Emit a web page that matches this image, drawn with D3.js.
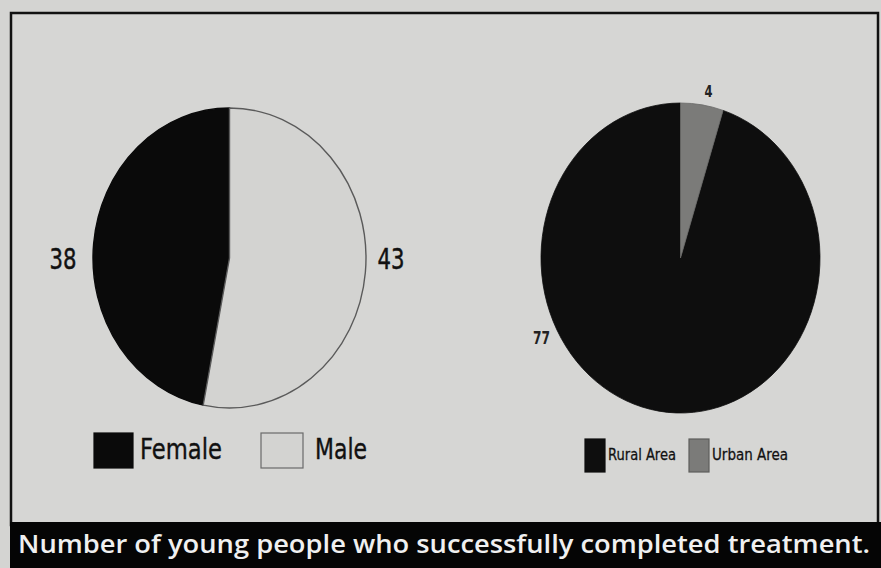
<!DOCTYPE html>
<html>
<head>
<meta charset="utf-8">
<script src="https://cdn.jsdelivr.net/npm/d3@7"></script>
<style>
  html, body { margin: 0; padding: 0; background: #d3d3d1; }
  svg { display: block; }
</style>
</head>
<body>
<div id="chart"></div>
<script>
// chart data
var genderLabels = ["Female", "Male"];
var genderValues = [38, 43];
var areaLabels = ["Rural Area", "Urban Area"];
var areaValues = [77, 4];
var titleText = "Number of young people who successfully completed treatment.";

var W = 881, H = 568;

var svg = d3.select("#chart").append("svg")
    .attr("width", W)
    .attr("height", H);

// background + frame
svg.append("rect").attr("width", W).attr("height", H).attr("fill", "#d4d4d2");
svg.append("rect")
    .attr("x", 11).attr("y", 13)
    .attr("width", 867).attr("height", 512)
    .attr("fill", "#d6d6d4")
    .attr("stroke", "#111").attr("stroke-width", 2.5);

// title banner
svg.append("rect")
    .attr("x", 10).attr("y", 522)
    .attr("width", W - 10).attr("height", H - 522)
    .attr("fill", "#050505");
svg.append("text")
    .attr("x", 18).attr("y", 553)
    .attr("font-family", "'Open Sans', sans-serif")
    .attr("font-weight", 600)
    .attr("font-size", 26)
    .attr("fill", "#f0f0f0")
    .attr("textLength", 852)
    .attr("lengthAdjust", "spacingAndGlyphs")
    .text(titleText);

var R = 100; // base radius, stretched into an ellipse
var pieLayout = function (values, start) {
    var total = d3.sum(values);
    var a0 = start(total);
    return d3.pie().sort(null).startAngle(a0).endAngle(a0 + 2 * Math.PI)(values);
};
var arc = d3.arc().innerRadius(0).outerRadius(R);

// ---- left pie: gender
var g1 = { cx: 229.5, cy: 258, rx: 136.5, ry: 150 };
var genderColor = d3.scaleOrdinal().domain(genderLabels).range(["#0a0a0a", "#d3d3d1"]);
var genderStroke = d3.scaleOrdinal().domain(genderLabels).range(["#0a0a0a", "#5a5a5a"]);

var genderArcs = pieLayout(genderValues, function (t) { return -2 * Math.PI * genderValues[0] / t; });

svg.append("g")
    .attr("transform", "translate(" + g1.cx + "," + g1.cy + ") scale(" + g1.rx / R + "," + g1.ry / R + ")")
    .selectAll("path").data(genderArcs).enter().append("path")
    .attr("d", arc)
    .attr("fill", function (d, i) { return genderColor(genderLabels[i]); })
    .attr("stroke", function (d, i) { return genderStroke(genderLabels[i]); })
    .attr("stroke-width", 1.4)
    .attr("vector-effect", "non-scaling-stroke");

// value labels left/right of the ellipse
var genderLabelX = [-166.5, 161.5];
svg.append("g").selectAll("text").data(genderArcs).enter().append("text")
    .attr("x", function (d, i) { return g1.cx + genderLabelX[i]; })
    .attr("y", g1.cy + 11)
    .attr("text-anchor", "middle")
    .attr("font-family", "'DejaVu Sans', sans-serif")
    .attr("font-size", 29)
    .attr("stroke", "#111")
    .attr("stroke-width", 0.5)
    .attr("fill", "#111")
    .attr("textLength", 27)
    .attr("lengthAdjust", "spacingAndGlyphs")
    .text(function (d) { return d.data; });

// legend
var leg1 = svg.append("g");
var leg1X = [94, 261], leg1TextW = [82, 52];
genderLabels.forEach(function (lab, i) {
    leg1.append("rect")
        .attr("x", leg1X[i]).attr("y", 433)
        .attr("width", i === 0 ? 39 : 42).attr("height", 35)
        .attr("fill", genderColor(lab))
        .attr("stroke", i === 0 ? "#0a0a0a" : "#6a6a6a")
        .attr("stroke-width", 1.2);
    leg1.append("text")
        .attr("x", leg1X[i] + (i === 0 ? 46 : 54)).attr("y", 459)
        .attr("font-family", "'DejaVu Sans', sans-serif")
        .attr("font-size", 28)
        .attr("fill", "#111")
        .attr("stroke", "#111")
        .attr("stroke-width", 0.4)
        .attr("textLength", leg1TextW[i])
        .attr("lengthAdjust", "spacingAndGlyphs")
        .text(lab);
});

// ---- right pie: area
var g2 = { cx: 680.5, cy: 258, rx: 139.5, ry: 155 };
var areaColor = d3.scaleOrdinal().domain(areaLabels).range(["#0e0e0e", "#7b7b79"]);

var areaArcs = pieLayout(areaValues, function (t) { return -2 * Math.PI * areaValues[0] / t; });

svg.append("g")
    .attr("transform", "translate(" + g2.cx + "," + g2.cy + ") scale(" + g2.rx / R + "," + g2.ry / R + ")")
    .selectAll("path").data(areaArcs).enter().append("path")
    .attr("d", arc)
    .attr("fill", function (d, i) { return areaColor(areaLabels[i]); })
    .attr("stroke", function (d, i) { return i === 0 ? "#0e0e0e" : "#6a6a68"; })
    .attr("stroke-width", 0.8)
    .attr("vector-effect", "non-scaling-stroke");

// labels: 77 sits left-low, 4 above the thin slice
var areaLabelPos = [[-139, 86], [28, -161]];
var areaLabelSize = [17, 15];
svg.append("g").selectAll("text").data(areaArcs).enter().append("text")
    .attr("x", function (d, i) { return g2.cx + areaLabelPos[i][0]; })
    .attr("y", function (d, i) { return g2.cy + areaLabelPos[i][1]; })
    .attr("text-anchor", "middle")
    .attr("font-family", "'DejaVu Sans', sans-serif")
    .attr("font-weight", "bold")
    .attr("font-size", function (d, i) { return areaLabelSize[i]; })
    .attr("fill", "#222")
    .attr("textLength", function (d, i) { return i === 0 ? 17 : 8; })
    .attr("lengthAdjust", "spacingAndGlyphs")
    .text(function (d) { return d.data; });

var leg2 = svg.append("g");
var leg2X = [585, 689], leg2TextW = [68, 76];
areaLabels.forEach(function (lab, i) {
    leg2.append("rect")
        .attr("x", leg2X[i]).attr("y", 439)
        .attr("width", 20).attr("height", 33)
        .attr("fill", areaColor(lab))
        .attr("stroke", i === 0 ? "#0e0e0e" : "#5e5e5c")
        .attr("stroke-width", 1.2);
    leg2.append("text")
        .attr("x", leg2X[i] + 23).attr("y", 460)
        .attr("font-family", "'DejaVu Sans', sans-serif")
        .attr("font-size", 16)
        .attr("fill", "#111")
        .attr("stroke", "#111")
        .attr("stroke-width", 0.3)
        .attr("textLength", leg2TextW[i])
        .attr("lengthAdjust", "spacingAndGlyphs")
        .text(lab);
});
</script>
</body>
</html>
